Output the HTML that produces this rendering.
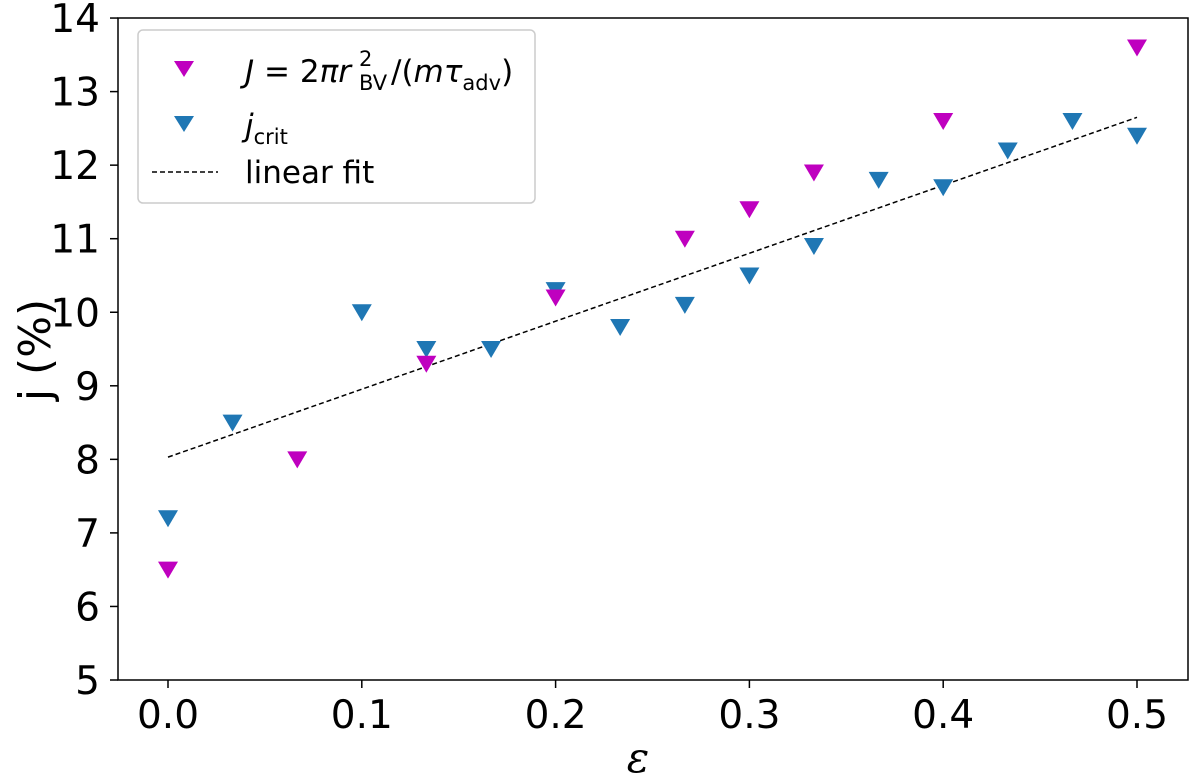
<!DOCTYPE html>
<html><head><meta charset="utf-8"><style>
body{margin:0;background:#fff}
svg{display:block;font-family:"DejaVu Sans","Liberation Sans",sans-serif}
</style></head><body>
<svg id="chart" width="1200" height="777">
<rect x="118" y="18" width="1070" height="662" fill="#fff" stroke="#000" stroke-width="1.5"/>
<g id="axes"></g>
<g id="marks"></g>
<text x="638" y="772" font-size="42" font-style="italic" text-anchor="middle" font-family="DejaVu Serif,serif">ε</text>
<text transform="translate(50,350) rotate(-90)" font-size="44" text-anchor="middle">j (%)</text>
<g>
<rect x="138" y="30" width="397" height="173" rx="5" fill="#fff" stroke="#ccc" stroke-width="1.5" fill-opacity="0.85"/>
<path d="M174,61 L194,61 L184,77 Z" fill="#bf00bf"/>
<g font-size="31">
<text x="245" y="82"><tspan font-style="italic">J</tspan> = 2<tspan font-style="italic">πr</tspan></text>
<text x="359" y="66" font-size="21">2</text>
<text x="359" y="90" font-size="21">BV</text>
<text x="391" y="82">/(<tspan font-style="italic">mτ</tspan><tspan font-size="21" dy="8">adv</tspan><tspan dy="-8">)</tspan></text>
</g>
<path d="M174,116 L194,116 L184,132 Z" fill="#1f77b4"/>
<text x="245" y="136" font-size="31"><tspan font-style="italic">j</tspan><tspan font-size="21" dy="8">crit</tspan></text>
<line x1="152" y1="172" x2="218" y2="172" stroke="#000" stroke-width="1.5" stroke-dasharray="5,3"/>
<text x="245" y="183" font-size="31">linear fit</text>
</g>
</svg>
<script>
const xTicks=[0,0.1,0.2,0.3,0.4,0.5];
const yTicks=[5,6,7,8,9,10,11,12,13,14];
const jX=[0,0.0667,0.1333,0.2,0.2667,0.3,0.3333,0.4,0.5];
const jY=[6.5,8.0,9.3,10.2,11.0,11.4,11.9,12.6,13.6];
const cX=[0,0.0333,0.1,0.1333,0.1667,0.2,0.2333,0.2667,0.3,0.3333,0.3667,0.4,0.4333,0.4667,0.5];
const cY=[7.2,8.5,10.0,9.5,9.5,10.3,9.8,10.1,10.5,10.9,11.8,11.7,12.2,12.6,12.4];
const fitX=[0,0.5];
const fitY=[8.03,12.65];
const xs=v=>168+v*1938;
const ys=v=>680-(v-5)*73.55;
const NS="http://www.w3.org/2000/svg";
const axes=document.getElementById('axes'),marks=document.getElementById('marks');
function mk(tag,attrs,parent){const e=document.createElementNS(NS,tag);for(const k in attrs)e.setAttribute(k,attrs[k]);parent.appendChild(e);return e;}
xTicks.forEach(t=>{
 const l=mk('line',{x1:xs(t),x2:xs(t),y1:680,y2:688,stroke:'#000','stroke-width':1.5},axes);
 
 
 const tx=mk('text',{x:xs(t),y:728,'font-size':39,'text-anchor':'middle'},axes);
 tx.textContent=t.toFixed(1);
 
 
});
yTicks.forEach(t=>{
 const l=mk('line',{x1:110,x2:118,y1:ys(t),y2:ys(t),stroke:'#000','stroke-width':1.5},axes);
 
 
 const tx=mk('text',{x:100,y:ys(t)+14,'font-size':39,'text-anchor':'end'},axes);
 tx.textContent=t;
 
 
});
const fl=mk('line',{x1:xs(fitX[0]),y1:ys(fitY[0]),x2:xs(fitX[1]),y2:ys(fitY[1]),stroke:'#000','stroke-width':1.5,'stroke-dasharray':'5,3'},marks);


function tri(x,y,c,name){
 const X=xs(x),Y=ys(y);
 const p=mk('path',{d:`M${X-10},${Y-8} L${X+10},${Y-8} L${X},${Y+9} Z`,fill:c},marks);
 
 
}
cX.forEach((x,i)=>tri(x,cY[i],'#1f77b4','jcrit-point'));
jX.forEach((x,i)=>tri(x,jY[i],'#bf00bf','J-point'));
</script>
</body></html>
